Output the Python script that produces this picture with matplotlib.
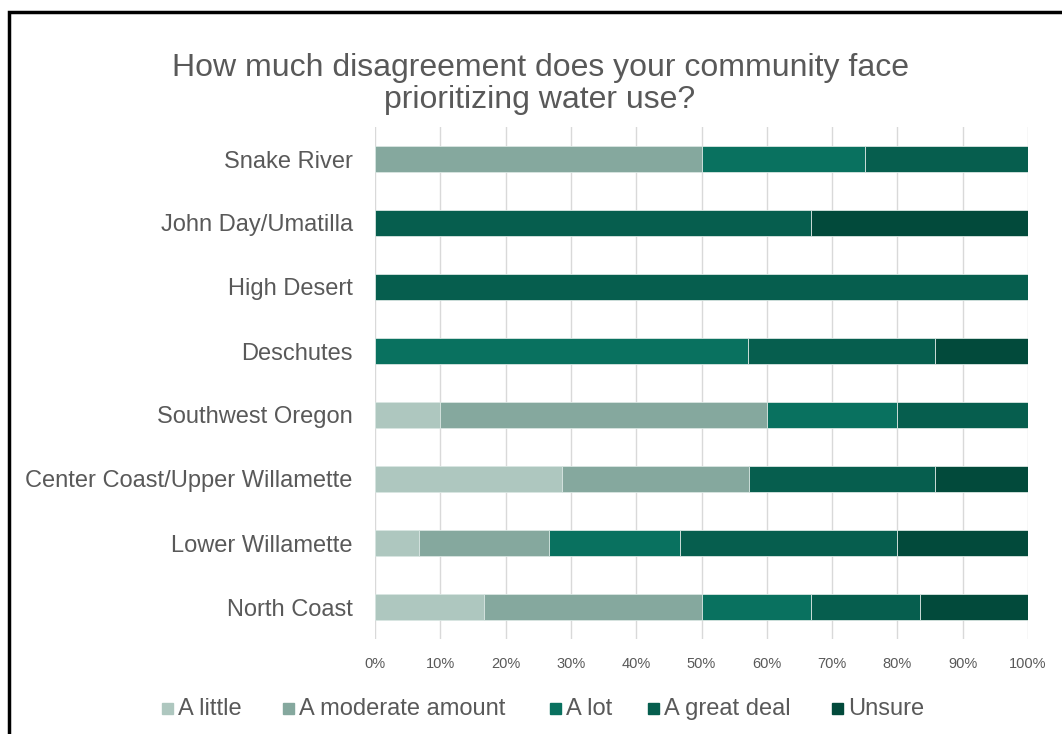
import numpy as np
import matplotlib
matplotlib.use('Agg')
import matplotlib.pyplot as plt
from matplotlib.patches import Rectangle

plt.rcParams['font.family'] = ['Liberation Sans', 'DejaVu Sans']

regions = ['Snake River', 'John Day/Umatilla', 'High Desert', 'Deschutes',
           'Southwest Oregon', 'Center Coast/Upper Willamette',
           'Lower Willamette', 'North Coast']
series = ['A little', 'A moderate amount', 'A lot', 'A great deal', 'Unsure']
a_little = [0, 0, 0, 0, 10, 28.6, 6.7, 16.7]
a_moderate = [50, 0, 0, 0, 50, 28.6, 20, 33.3]
a_lot = [25, 0, 0, 57.1, 20, 0, 20, 16.7]
a_great_deal = [25, 66.7, 100, 28.6, 20, 28.6, 33.3, 16.7]
unsure = [0, 33.3, 0, 14.3, 0, 14.3, 20, 16.6]
colors = ['#aec7bf', '#85a89e', '#09715f', '#065e4e', '#024a3b']

W, H = 1062, 734
text_col = '#595959'
fig = plt.figure(figsize=(W / 100, H / 100), dpi=100)
ax = fig.add_axes([375 / W, 1 - 639 / H, (1028 - 375) / W, (639 - 127) / H])

y = np.arange(len(regions))
left = np.zeros(len(regions))
for name, vals, c in zip(series, [a_little, a_moderate, a_lot, a_great_deal, unsure], colors):
    vals = np.array(vals)
    ax.barh(y, vals, left=left, height=0.4, color=c, label=name,
            edgecolor='#d9e6e2', linewidth=0.6, zorder=3)
    left += vals

ax.set_xlim(0, 100)
ax.set_ylim(len(regions) - 0.5, -0.5)
ax.set_yticks(y)
ax.set_yticklabels(regions, fontsize=17, color=text_col)
ax.set_xticks(np.arange(0, 101, 10))
ax.set_xticklabels([f'{v}%' for v in range(0, 101, 10)], fontsize=10.5, color=text_col)
ax.tick_params(length=0, pad=16, axis='y')
ax.tick_params(length=0, pad=13, axis='x')
ax.grid(axis='x', color='#d9d9d9', linewidth=1, zorder=0)
for s in ax.spines.values():
    s.set_visible(False)

fig.text(540 / W, 1 - 84 / H,
         'How much disagreement does your community face\nprioritizing water use?',
         ha='center', va='center', fontsize=23, color=text_col, linespacing=1.12)

# legend row, laid out by hand so all labels share one baseline
legend_x = [162, 283, 550, 648, 832]
for lx, name, c in zip(legend_x, series, colors):
    fig.patches.append(Rectangle((lx / W, 1 - 714 / H), 11 / W, 11 / H,
                                 transform=fig.transFigure, color=c))
    fig.text((lx + 16) / W, 1 - 715 / H, name, ha='left', va='baseline',
             fontsize=17, color=text_col)

fig.patches.append(Rectangle((9 / W, -0.1), 1.2, 1 - 12 / H + 0.1,
                             transform=fig.transFigure, fill=False,
                             edgecolor='black', linewidth=2.5))

fig.savefig('out.png', dpi=100)
